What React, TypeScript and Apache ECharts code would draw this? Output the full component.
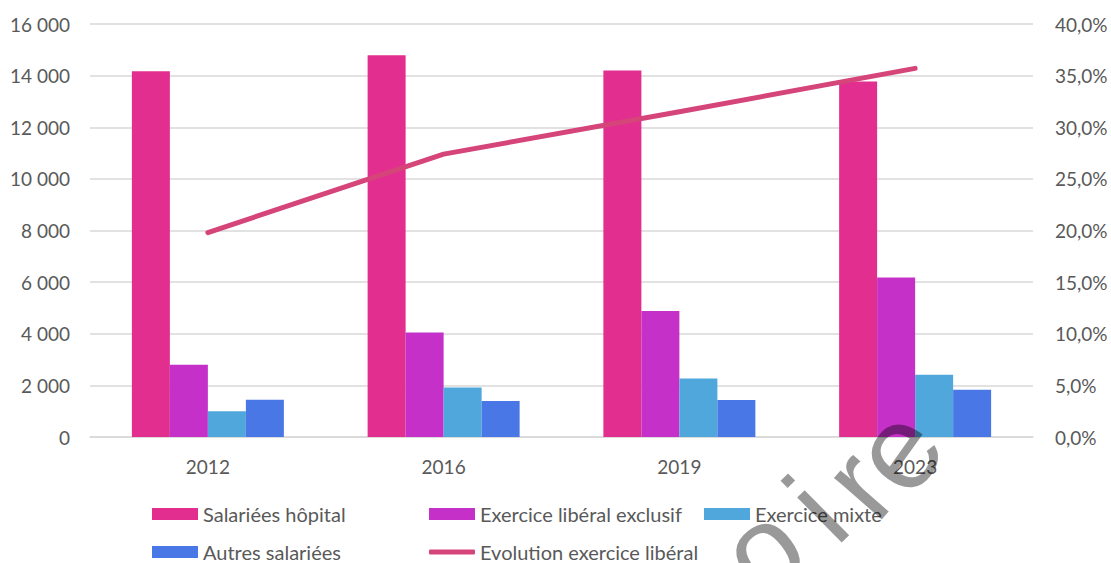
import React, { useEffect, useRef } from "react";
import * as echarts from "echarts";

const years = ["2012", "2016", "2019", "2023"];
const salarieesHopital = [14170, 14790, 14200, 13770];
const liberalExclusif = [2800, 4050, 4880, 6180];
const exerciceMixte = [1000, 1920, 2270, 2410];
const autresSalariees = [1440, 1390, 1430, 1830];
const evolutionLiberal = [0.198, 0.274, 0.315, 0.357];

const seriesNames = [
  "Salariées hôpital",
  "Exercice libéral exclusif",
  "Exercice mixte",
  "Autres salariées",
  "Evolution exercice libéral",
];

const watermarkLetters = ["o", "i", "r", "e"];

const FONT = "Lato, 'Open Sans', sans-serif";
const TXT = "#595959";
const LINE_COLOR = "#D5457A";

function fmtThousands(v: number): string {
  return String(v).replace(/\B(?=(\d{3})+(?!\d))/g, " ");
}

export default function App() {
  const ref = useRef<HTMLDivElement>(null);
  useEffect(() => {
    if (!ref.current) return;
    const chart = echarts.init(ref.current, null, { renderer: "svg" });
    const legendPos = [
      { left: 152, top: 503 },
      { left: 429, top: 503 },
      { left: 704, top: 503 },
      { left: 152, top: 541 },
      { left: 429, top: 541 },
    ];
    const wmPos = [
      { x: 762, y: 549, r: 0.65 },
      { x: 816, y: 509, r: 0.78 },
      { x: 858, y: 483, r: 0.85 },
      { x: 896, y: 450, r: 0.95 },
    ];
    chart.setOption({
      animation: false,
      backgroundColor: "#ffffff",
      textStyle: { fontFamily: FONT },
      grid: { left: 90, right: 78, top: 24, bottom: 126, containLabel: false },
      legend: seriesNames.map((n, i) => ({
        data: [
          i === 4
            ? { name: n, icon: "roundRect", itemStyle: { color: LINE_COLOR } }
            : { name: n, icon: "rect" },
        ],
        left: legendPos[i].left,
        top: legendPos[i].top,
        itemWidth: 46,
        itemHeight: i === 4 ? 5 : 12,
        itemGap: 0,
        padding: 0,
        textStyle: { color: TXT, fontSize: 20, fontFamily: FONT, lineHeight: 22 },
      })),
      xAxis: {
        type: "category",
        data: years,
        axisLine: { show: true, lineStyle: { color: "#d9d9d9", width: 1.5 } },
        axisTick: { show: false },
        axisLabel: { color: TXT, fontSize: 19, fontFamily: FONT, margin: 20 },
      },
      yAxis: [
        {
          type: "value",
          min: 0,
          max: 16000,
          interval: 2000,
          axisLine: { show: false },
          axisTick: { show: false },
          splitLine: { lineStyle: { color: "#d9d9d9", width: 1.5 } },
          axisLabel: {
            color: TXT,
            fontSize: 19,
            fontFamily: FONT,
            margin: 20,
            formatter: (v: number) => fmtThousands(v),
          },
        },
        {
          type: "value",
          min: 0,
          max: 0.4,
          interval: 0.05,
          position: "right",
          axisLine: { show: false },
          axisTick: { show: false },
          splitLine: { show: false },
          axisLabel: {
            color: TXT,
            fontSize: 19,
            fontFamily: FONT,
            margin: 22,
            formatter: (v: number) => (v * 100).toFixed(1).replace(".", ",") + "%",
          },
        },
      ],
      series: [
        {
          name: seriesNames[0],
          type: "bar",
          data: salarieesHopital,
          barWidth: 38,
          barGap: "0%",
          itemStyle: { color: "#E22E8E" },
        },
        {
          name: seriesNames[1],
          type: "bar",
          data: liberalExclusif,
          barWidth: 38,
          barGap: "0%",
          itemStyle: { color: "#C430C8" },
        },
        {
          name: seriesNames[2],
          type: "bar",
          data: exerciceMixte,
          barWidth: 38,
          barGap: "0%",
          itemStyle: { color: "#4FA7DC" },
        },
        {
          name: seriesNames[3],
          type: "bar",
          data: autresSalariees,
          barWidth: 38,
          barGap: "0%",
          itemStyle: { color: "#4A77E6" },
        },
        {
          name: seriesNames[4],
          type: "line",
          yAxisIndex: 1,
          data: evolutionLiberal,
          symbol: "none",
          itemStyle: { color: LINE_COLOR },
          lineStyle: { color: LINE_COLOR, width: 5, cap: "round", join: "round" },
          z: 5,
        },
      ],
      graphic: watermarkLetters.map((ch, i) => ({
        type: "text",
        x: wmPos[i].x,
        y: wmPos[i].y,
        rotation: wmPos[i].r,
        z: 100,
        style: {
          text: ch,
          fill: "rgba(0,0,0,0.4)",
          font: "120px 'Liberation Sans', Arial, sans-serif",
          align: "center",
          verticalAlign: "middle",
        },
      })),
    });
    return () => chart.dispose();
  }, []);
  return (
    <div
      ref={ref}
      style={{ position: "fixed", left: 0, top: 0, width: 1111, height: 563 }}
    />
  );
}
